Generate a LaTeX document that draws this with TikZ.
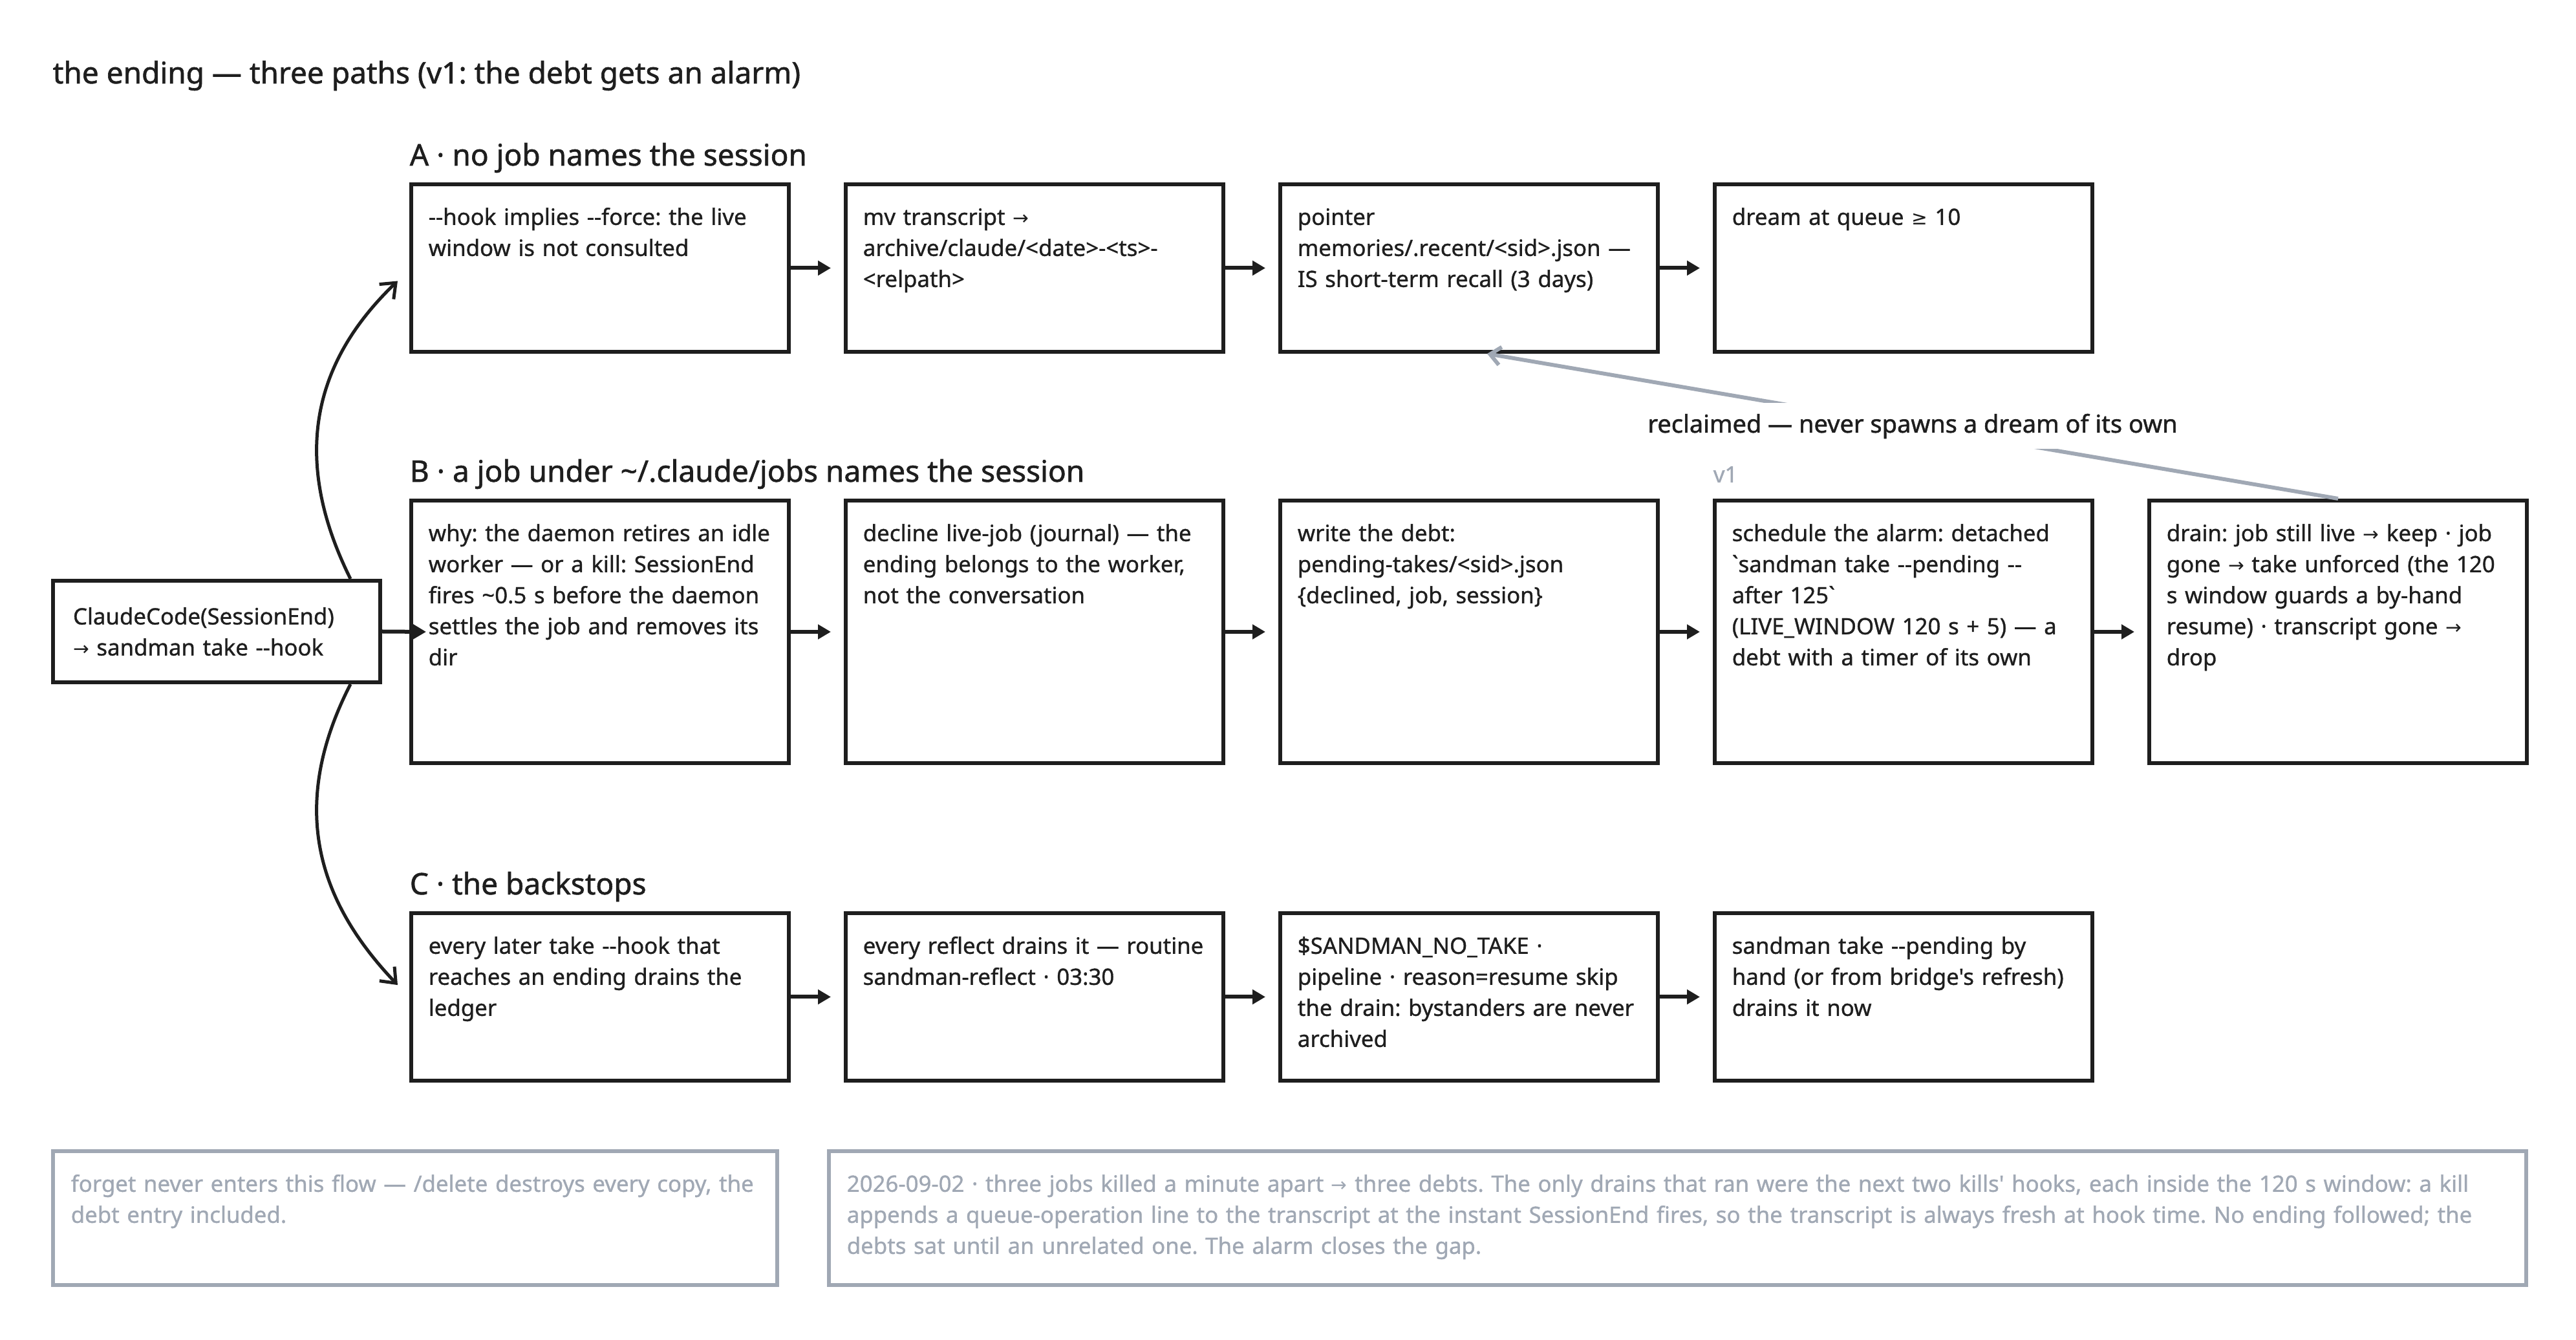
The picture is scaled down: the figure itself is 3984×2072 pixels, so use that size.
\documentclass[tikz,border=0pt]{standalone}
\usepackage{fontspec}
\newfontfamily\plex{Noto Sans}[FakeBold=1.0]
\newfontfamily\plexh{Noto Sans}[FakeBold=1.3]
\newfontfamily\symf{DejaVu Sans}[Scale=0.85]
\usetikzlibrary{arrows.meta}
\definecolor{ink}{HTML}{1E1E1E}
\definecolor{mute}{HTML}{A0A8B4}
\frenchspacing
\newcommand{\ra}{{\symf →}}
\newcommand{\atleast}{{\symf ≥}}
\newcommand{\bodyf}{\plex\fontsize{8.7}{12}\selectfont\frenchspacing}
\newcommand{\headf}{\plexh\fontsize{11.5}{14}\selectfont\frenchspacing}
\newcommand{\labf}{\plexh\fontsize{9.5}{12}\selectfont\frenchspacing}
\newcommand{\btext}[2]{\node[txt] (#1t) at ([shift={(29,31.4)}]#1.north west) {#2};}
\newcommand{\ntext}[3]{\node[txt, text=mute, text width=#3] (#1t) at ([shift={(30,31.4)}]#1.north west) {#2};}
\begin{document}
\begin{tikzpicture}[x=0.25pt, y=-0.25pt,
  box/.style={draw=ink, line width=1.5pt, anchor=north west, inner sep=0, minimum width=146pt},
  rowac/.style={minimum height=64.75pt},
  rowb/.style={minimum height=101.5pt},
  note/.style={draw=mute, line width=1.5pt, anchor=north west, inner sep=0, minimum height=51.75pt},
  txt/.style={anchor=north west, inner sep=0, align=left, text width=160pt, font=\bodyf, text=ink, execute at begin node=\strut},
  head/.style={anchor=base west, inner sep=0, font=\headf, text=ink},
  flow/.style={draw=ink, line width=1.5pt, -{Triangle[length=5pt,width=5.5pt]}, shorten >=5pt},
  curve/.style={draw=ink, line width=1.25pt, -{Straight Barb[length=5pt,width=8pt,line width=1.25pt]}},
  recl/.style={draw=mute, line width=1.5pt, -{Straight Barb[length=4pt,width=7pt,line width=1.5pt]}},
  lbl/.style={midway, fill=white, inner xsep=6pt, inner ysep=0pt, minimum height=17.75pt, font=\labf, text=ink}
]
\useasboundingbox (0,0) rectangle (3984,2072);

% title
\node[head] (title) at (81,129) {the ending — three paths (v1: the debt gets an alarm)};

% start node
\node[box, minimum width=126.5pt, minimum height=39.25pt, text width=111pt, inner xsep=7.75pt, align=left, font=\bodyf, text=ink] (start) at (79,895) {ClaudeCode(SessionEnd)\\\ra{} sandman take --hook};

% row A
\node[box, rowac] (a1) at (633,282) {};
\node[box, rowac] (a2) at (1305,282) {};
\node[box, rowac] (a3) at (1977,282) {};
\node[box, rowac] (a4) at (2649,282) {};
\node[head] (ha) at ([shift={(0,-26)}]a1.north west) {A · no job names the session};
\btext{a1}{--hook implies --force: the live\\window is not consulted}
\btext{a2}{mv transcript \ra\\archive/claude/<date>-<ts>-\\<relpath>}
\btext{a3}{pointer\\memories/.recent/<sid>.json —\\IS short-term recall (3 days)}
\btext{a4}{dream at queue \atleast{} 10}

% row B
\node[box, rowb] (b1) at (633,771) {};
\node[box, rowb] (b2) at (1305,771) {};
\node[box, rowb] (b3) at (1977,771) {};
\node[box, rowb] (b4) at (2649,771) {};
\node[box, rowb] (b5) at (3321,771) {};
\node[head] (hb) at ([shift={(0,-26)}]b1.north west) {B · a job under \textasciitilde/.claude/jobs names the session};
\btext{b1}{why: the daemon retires an idle\\worker — or a kill: SessionEnd\\fires \textasciitilde0.5 s before the daemon\\settles the job and removes its\\dir}
\btext{b2}{decline live-job (journal) — the\\ending belongs to the worker,\\not the conversation}
\btext{b3}{write the debt:\\pending-takes/<sid>.json\\\{declined, job, session\}}
\btext{b4}{schedule the alarm: detached\\`sandman take --pending --\\after 125`\\(LIVE\_WINDOW 120 s + 5) — a\\debt with a timer of its own}
\btext{b5}{drain: job still live \ra{} keep · job\\gone \ra{} take unforced (the 120\\s window guards a by-hand\\resume) · transcript gone \ra\\drop}
\node[anchor=base west, inner sep=0, font=\bodyf, text=mute] (v1) at ([shift={(0,-25)}]b4.north west) {v1};

% row C
\node[box, rowac] (c1) at (633,1409) {};
\node[box, rowac] (c2) at (1305,1409) {};
\node[box, rowac] (c3) at (1977,1409) {};
\node[box, rowac] (c4) at (2649,1409) {};
\node[head] (hc) at ([shift={(0,-26)}]c1.north west) {C · the backstops};
\btext{c1}{every later take --hook that\\reaches an ending drains the\\ledger}
\btext{c2}{every reflect drains it — routine\\sandman-reflect · 03:30}
\btext{c3}{\$SANDMAN\_NO\_TAKE ·\\pipeline · reason=resume skip\\the drain: bystanders are never\\archived}
\btext{c4}{sandman take --pending by\\hand (or from bridge's refresh)\\drains it now}

% notes
\node[note, minimum width=280pt] (n1) at (79,1777) {};
\node[note, minimum width=656.25pt] (n2) at (1279,1777) {};
\ntext{n1}{forget never enters this flow — /delete destroys every copy, the\\debt entry included.}{400pt}
\ntext{n2}{2026-09-02 · three jobs killed a minute apart \ra{} three debts. The only drains that ran were the next two kills' hooks, each inside the 120 s window: a kill\\appends a queue-operation line to the transcript at the instant SessionEnd fires, so the transcript is always fresh at hook time. No ending followed; the\\debts sat until an unrelated one. The alarm closes the gap.}{800pt}

% flows
\draw[flow] (a1.east) -- (a2.west);
\draw[flow] (a2.east) -- (a3.west);
\draw[flow] (a3.east) -- (a4.west);
\draw[flow, shorten >=0pt] (start.east) -- ([xshift=6.5pt]b1.west);
\draw[flow] (b1.east) -- (b2.west);
\draw[flow] (b2.east) -- (b3.west);
\draw[flow] (b3.east) -- (b4.west);
\draw[flow] (b4.east) -- (b5.west);
\draw[flow] (c1.east) -- (c2.west);
\draw[flow] (c2.east) -- (c3.west);
\draw[flow] (c3.east) -- (c4.west);

% curves from start
\draw[curve] ([xshift=-12.25pt]start.north east) .. controls (440,690) and (500,545) .. ([xshift=-4.5pt,yshift=-5pt]a1.west);
\draw[curve] ([xshift=-12.25pt]start.south east) .. controls (440,1257) and (500,1402) .. ([xshift=-4.5pt,yshift=4.6pt]c1.west);

% reclaimed
\draw[recl] (b5.north) -- node[lbl] (rl) {reclaimed — never spawns a dream of its own} ([xshift=7pt]a3.south);
\end{tikzpicture}
\end{document}
